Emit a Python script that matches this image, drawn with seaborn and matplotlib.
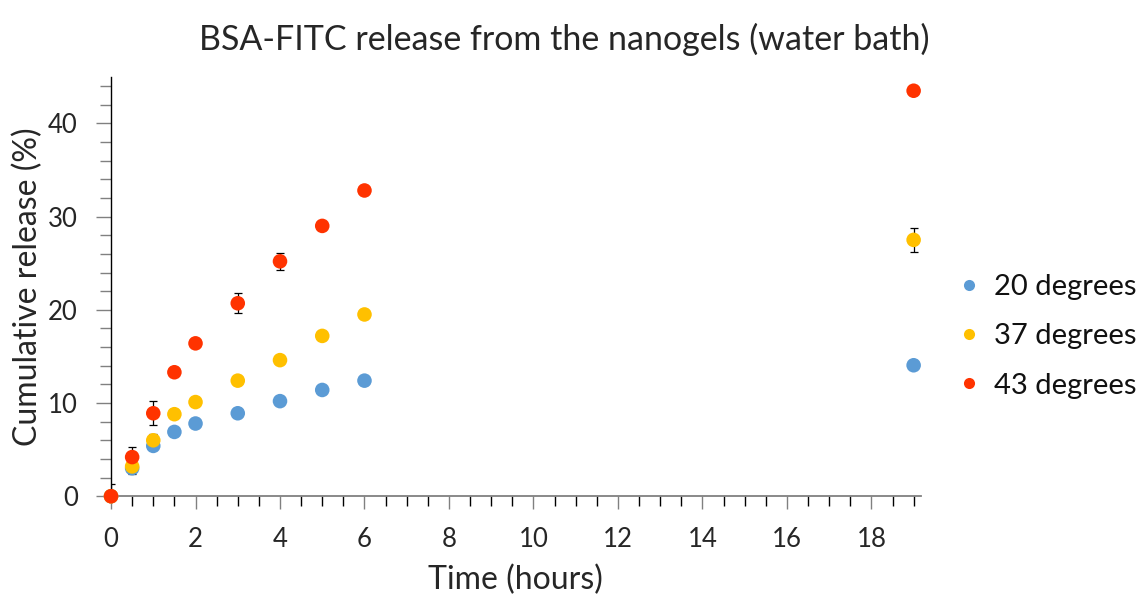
import matplotlib
matplotlib.use("Agg")
import matplotlib.pyplot as plt
import seaborn as sns
import pandas as pd
from matplotlib.ticker import MultipleLocator

times = [0, 0.5, 1, 1.5, 2, 3, 4, 5, 6, 19]
release_20 = [0, 3.0, 5.4, 6.9, 7.8, 8.9, 10.2, 11.4, 12.4, 14.05]
release_37 = [0, 3.2, 6.0, 8.8, 10.1, 12.4, 14.6, 17.2, 19.5, 27.5]
release_43 = [0, 4.2, 8.9, 13.3, 16.4, 20.7, 25.2, 29.0, 32.8, 43.5]
err_20 = [1.3, 0.3, 0.3, 0.2, 0.2, 0.2, 0.2, 0.2, 0.2, 0.3]
err_37 = [0.3, 0.8, 0.7, 0.3, 0.3, 0.3, 0.3, 0.3, 0.3, 1.25]
err_43 = [0.3, 1.05, 1.3, 0.4, 0.3, 1.05, 0.9, 0.3, 0.3, 0.3]
series = ["20 degrees", "37 degrees", "43 degrees"]
colors = ["#5B9BD5", "#FFC000", "#FF3300"]

df = pd.concat([
    pd.DataFrame({"time": times, "release": r, "err": e, "series": s})
    for r, e, s in zip([release_20, release_37, release_43], [err_20, err_37, err_43], series)
])

sns.set_theme(style="white")
plt.rcParams["font.family"] = ["Lato", "DejaVu Sans"]

fig = plt.figure(figsize=(11.47, 5.95), dpi=100)
ax = fig.add_axes([0.0968, 0.166, 0.706, 0.705])

for s, c in zip(series, colors):
    sub = df[df.series == s]
    ax.errorbar(sub.time, sub.release, yerr=sub.err, fmt="none", ecolor="black",
                elinewidth=0.9, capsize=3, capthick=0.9, zorder=2, clip_on=True)

sns.scatterplot(data=df, x="time", y="release", hue="series", palette=colors,
                s=110, edgecolor="none", ax=ax, zorder=3, clip_on=False, legend=False)

ax.set_xlim(0, 19.17)
ax.set_ylim(0, 45)
ax.xaxis.set_major_locator(MultipleLocator(2))
ax.xaxis.set_minor_locator(MultipleLocator(0.5))
ax.yaxis.set_major_locator(MultipleLocator(10))
ax.yaxis.set_minor_locator(MultipleLocator(2))
ax.set_xticks([0, 2, 4, 6, 8, 10, 12, 14, 16, 18])

for sp in ["top", "right"]:
    ax.spines[sp].set_visible(False)
ax.spines["left"].set_color("black")
ax.spines["bottom"].set_color("#808080")
ax.spines["left"].set_linewidth(1.0)
ax.spines["bottom"].set_linewidth(1.3)

ax.tick_params(axis="x", which="major", direction="out", length=9, width=1, color="#808080",
               labelsize=18.5, pad=13, bottom=True)
ax.tick_params(axis="x", which="minor", direction="out", length=7, width=1, color="black", bottom=True)
ax.tick_params(axis="y", which="major", direction="out", length=11, width=1, color="#808080",
               labelsize=18.5, pad=13, left=True)
ax.tick_params(axis="y", which="minor", direction="out", length=8, width=1, color="#808080", left=True)

ax.set_xlabel("Time (hours)", fontsize=23, labelpad=9)
ax.set_ylabel("Cumulative release (%)", fontsize=23, labelpad=3)
fig.suptitle("BSA-FITC release from the nanogels (water bath)", fontsize=24.5, x=0.492, y=0.962)

handles = [plt.Line2D([], [], marker="o", linestyle="none", markersize=8,
                      markerfacecolor=c, markeredgecolor="none") for c in colors]
leg = fig.legend(handles, series, loc="center left", bbox_to_anchor=(0.835, 0.435), frameon=False,
                 fontsize=21, handlelength=0.8, handletextpad=0.45, labelspacing=0.8,
                 borderpad=0, borderaxespad=0)
for t in leg.get_texts():
    t.set_color("#111111")

fig.savefig("out.png", dpi=100)
